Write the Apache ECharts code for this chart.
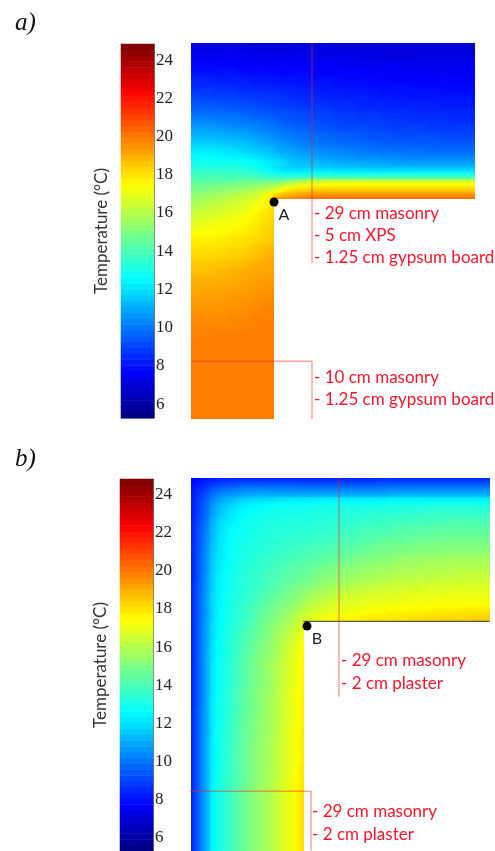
<!DOCTYPE html>
<html><head><meta charset="utf-8">
<style>html,body{margin:0;padding:0;background:#fff;overflow:hidden}#c{width:495px;height:851px}</style>
<script src="https://cdn.jsdelivr.net/npm/echarts@6/dist/echarts.min.js"></script>
</head><body><div id="c"></div>
<script>
const tempMin = 5.27, tempMax = 24.84;
const tickValues = [6,8,10,12,14,16,18,20,22,24];
const barLevels = [5.4,5.7,6.0,6.3,6.6,6.9,7.2,7.6,7.9,8.2,8.5,8.8,9.1,9.4,9.7,10.0,10.3,10.6,10.9,11.2,11.6,11.9,12.2,12.5,12.8,13.1,13.4,13.7,14.0,14.3,14.6,14.9,15.2,15.6,15.9,16.2,16.5,16.8,17.1,17.4,17.7,18.0,18.3,18.6,18.9,19.3,19.6,19.9,20.2,20.5,20.8,21.1,21.4,21.7,22.0,22.3,22.7,23.0,23.3,23.6,23.9,24.2,24.5,24.8];
const jet = ['#000080','#0000ff','#0080ff','#00ffff','#80ff80','#ffff00','#ff8000','#ff0000','#800000'];

// Panel a: temperature read per cell, top to bottom; short rows are the wall leg
const fieldA = [
[7.2,7.2,7.2,7.2,7.2,7.1,7.1,7.1,7.1,7.1,7.1,7.1,7.0,7.0,7.0,7.0,7.0,7.0,7.0,7.0,7.0,7.0,7.0,7.0],
[7.4,7.4,7.4,7.4,7.3,7.3,7.3,7.3,7.3,7.3,7.2,7.2,7.2,7.2,7.2,7.2,7.1,7.1,7.1,7.1,7.1,7.1,7.1,7.1],
[7.6,7.6,7.6,7.6,7.5,7.5,7.5,7.5,7.5,7.4,7.4,7.4,7.4,7.4,7.3,7.3,7.3,7.3,7.3,7.3,7.3,7.3,7.3,7.3],
[7.8,7.8,7.8,7.8,7.7,7.7,7.7,7.7,7.6,7.6,7.6,7.6,7.5,7.5,7.5,7.5,7.5,7.5,7.4,7.4,7.4,7.4,7.4,7.4],
[8.0,8.0,8.0,8.0,7.9,7.9,7.9,7.8,7.8,7.8,7.7,7.7,7.7,7.7,7.6,7.6,7.6,7.6,7.6,7.6,7.5,7.5,7.5,7.5],
[8.3,8.3,8.2,8.2,8.2,8.1,8.1,8.0,8.0,8.0,7.9,7.9,7.9,7.8,7.8,7.8,7.7,7.7,7.7,7.7,7.7,7.7,7.6,7.6],
[8.5,8.5,8.5,8.4,8.4,8.3,8.3,8.2,8.2,8.1,8.1,8.1,8.0,8.0,8.0,7.9,7.9,7.9,7.9,7.8,7.8,7.8,7.8,7.8],
[8.8,8.8,8.7,8.7,8.6,8.6,8.5,8.5,8.4,8.3,8.3,8.2,8.2,8.1,8.1,8.1,8.0,8.0,8.0,8.0,8.0,7.9,7.9,7.9],
[9.1,9.0,9.0,9.0,8.9,8.8,8.8,8.7,8.6,8.5,8.5,8.4,8.4,8.3,8.3,8.2,8.2,8.2,8.1,8.1,8.1,8.1,8.1,8.1],
[9.4,9.4,9.3,9.3,9.2,9.1,9.0,8.9,8.8,8.7,8.7,8.6,8.5,8.5,8.4,8.4,8.4,8.3,8.3,8.3,8.3,8.2,8.2,8.2],
[9.7,9.7,9.7,9.6,9.5,9.4,9.3,9.2,9.1,9.0,8.9,8.8,8.7,8.7,8.6,8.6,8.5,8.5,8.5,8.4,8.4,8.4,8.4,8.4],
[10.1,10.1,10.0,10.0,9.9,9.7,9.6,9.4,9.3,9.2,9.1,9.0,8.9,8.9,8.8,8.8,8.7,8.7,8.6,8.6,8.6,8.6,8.5,8.5],
[10.5,10.5,10.4,10.3,10.2,10.1,9.9,9.7,9.5,9.4,9.3,9.2,9.1,9.0,9.0,8.9,8.9,8.8,8.8,8.8,8.7,8.7,8.7,8.7],
[10.9,10.9,10.8,10.7,10.6,10.4,10.2,10.0,9.8,9.7,9.5,9.4,9.3,9.2,9.2,9.1,9.1,9.0,9.0,9.0,8.9,8.9,8.9,8.9],
[11.3,11.3,11.2,11.1,11.0,10.8,10.6,10.3,10.1,9.9,9.8,9.7,9.6,9.5,9.4,9.3,9.3,9.2,9.2,9.2,9.2,9.1,9.1,9.1],
[11.7,11.7,11.6,11.5,11.4,11.2,10.9,10.7,10.4,10.2,10.0,9.9,9.8,9.7,9.7,9.6,9.5,9.5,9.5,9.4,9.4,9.4,9.4,9.4],
[12.2,12.2,12.1,12.0,11.8,11.6,11.4,11.0,10.8,10.5,10.4,10.3,10.2,10.1,10.0,9.9,9.9,9.8,9.8,9.8,9.7,9.7,9.7,9.7],
[12.6,12.6,12.5,12.4,12.3,12.1,11.8,11.5,11.2,11.0,10.8,10.7,10.6,10.5,10.4,10.4,10.3,10.3,10.2,10.2,10.2,10.2,10.2,10.2],
[13.0,13.0,12.9,12.9,12.8,12.6,12.3,12.0,11.6,11.4,11.3,11.2,11.1,11.0,11.0,10.9,10.9,10.8,10.8,10.8,10.8,10.8,10.8,10.8],
[13.4,13.4,13.4,13.4,13.3,13.1,12.6,12.2,12.0,12.0,12.0,12.0,11.9,11.9,11.9,11.8,11.8,11.8,11.8,11.8,11.8,11.8,11.8,11.8],
[13.9,13.9,13.9,13.9,13.9,13.8,13.5,13.3,13.3,13.4,13.5,13.6,13.6,13.6,13.6,13.6,13.6,13.6,13.6,13.6,13.6,13.6,13.6,13.6],
[14.4,14.5,14.5,14.6,14.8,14.9,15.0,15.2,15.8,16.3,16.6,16.8,16.9,16.9,16.9,16.9,16.9,16.9,16.9,16.9,16.9,16.9,16.9,16.9],
[14.9,15.0,15.2,15.4,15.6,15.9,16.3,17.0,17.8,18.1,18.3,18.3,18.3,18.3,18.3,18.3,18.3,18.3,18.3,18.3,18.3,18.3,18.3,18.3],
[15.4,15.6,15.8,16.1,16.3,16.6,17.4,18.7,19.2,19.5,19.7,19.7,19.7,19.7,19.7,19.7,19.7,19.7,19.7,19.7,19.7,19.7,19.7,19.7],
[15.8,16.0,16.2,16.5,16.8,17.1,17.7],
[16.2,16.4,16.6,16.8,17.0,17.4,17.9],
[16.6,16.7,16.9,17.1,17.3,17.7,18.1],
[16.9,17.0,17.2,17.3,17.5,17.8,18.2],
[17.2,17.3,17.4,17.5,17.7,18.0,18.3],
[17.5,17.6,17.6,17.8,17.9,18.1,18.4],
[17.8,17.8,17.9,18.0,18.1,18.3,18.5],
[18.0,18.0,18.1,18.2,18.3,18.5,18.7],
[18.2,18.2,18.3,18.4,18.5,18.7,18.9],
[18.4,18.4,18.5,18.6,18.7,18.9,19.1],
[18.6,18.6,18.7,18.8,18.9,19.1,19.2],
[18.8,18.8,18.9,19.0,19.1,19.2,19.3],
[19.0,19.0,19.0,19.1,19.2,19.3,19.4],
[19.1,19.1,19.2,19.2,19.3,19.4,19.5],
[19.2,19.3,19.3,19.4,19.4,19.5,19.6],
[19.4,19.4,19.4,19.5,19.5,19.6,19.7],
[19.5,19.5,19.5,19.6,19.6,19.7,19.8],
[19.6,19.6,19.6,19.7,19.7,19.8,19.9],
[19.7,19.7,19.7,19.8,19.8,19.9,19.9],
[19.8,19.8,19.8,19.8,19.9,19.9,20.0],
[19.9,19.9,19.9,19.9,19.9,20.0,20.0],
[19.9,19.9,20.0,20.0,20.0,20.0,20.0],
[20.0,20.0,20.0,20.0,20.0,20.0,20.0],
[20.0,20.0,20.0,20.0,20.0,20.0,20.0],
[20.0,20.0,20.0,20.0,20.0,20.0,20.0],
[20.0,20.0,20.0,20.0,20.0,20.0,20.0],
[20.0,20.0,20.0,20.0,20.0,20.0,20.0],
[20.0,20.0,20.0,20.0,20.0,20.0,20.0],
[20.0,20.0,20.0,20.0,20.0,20.0,20.0],
[20.0,20.0,20.0,20.0,20.0,20.0,20.0],
[20.0,20.0,20.0,20.0,20.0,20.0,20.0],
[20.0,20.0,20.0,20.0,20.0,20.0,20.0],
[20.0,20.0,20.0,20.0,20.0,20.0,20.0],
[20.0,20.0,20.0,20.0,20.0,20.0,20.0]
];

// Panel b
const fieldB = [
[8.0,8.4,8.7,8.9,9.0,9.1,9.1,9.1,9.1,9.1,9.1,9.1,9.1,9.1,9.1,9.1,9.1,9.1,9.1,9.1,9.2,9.2,9.2,9.2,9.2,9.2,9.2,9.2,9.2,9.2,9.2,9.2],
[8.4,9.1,9.8,10.2,10.4,10.6,10.7,10.7,10.7,10.7,10.7,10.7,10.7,10.7,10.7,10.7,10.7,10.7,10.7,10.7,10.7,10.8,10.8,10.8,10.8,10.8,10.8,10.8,10.8,10.8,10.8,10.8],
[8.6,9.6,10.6,11.2,11.6,11.9,12.1,12.2,12.3,12.4,12.4,12.5,12.5,12.5,12.6,12.6,12.6,12.6,12.6,12.6,12.6,12.7,12.7,12.7,12.7,12.7,12.7,12.7,12.7,12.7,12.7,12.7],
[8.7,9.8,11.0,11.7,12.2,12.5,12.7,12.8,12.9,12.9,13.0,13.0,13.0,13.1,13.1,13.1,13.2,13.2,13.2,13.3,13.3,13.3,13.4,13.4,13.4,13.5,13.5,13.5,13.5,13.5,13.5,13.5],
[8.8,10.0,11.3,12.0,12.4,12.7,12.9,13.0,13.1,13.1,13.2,13.2,13.2,13.3,13.3,13.4,13.4,13.5,13.6,13.6,13.7,13.7,13.8,13.8,13.9,13.9,13.9,14.0,14.0,14.0,14.0,14.0],
[8.9,10.2,11.5,12.2,12.6,12.8,13.0,13.1,13.2,13.3,13.3,13.4,13.4,13.5,13.5,13.6,13.7,13.8,13.9,14.0,14.0,14.1,14.2,14.2,14.3,14.3,14.4,14.4,14.4,14.4,14.4,14.4],
[8.9,10.3,11.6,12.3,12.7,12.9,13.1,13.2,13.3,13.4,13.5,13.6,13.6,13.7,13.8,13.9,14.0,14.1,14.2,14.3,14.4,14.5,14.5,14.6,14.7,14.7,14.8,14.8,14.8,14.8,14.8,14.8],
[9.0,10.4,11.7,12.4,12.8,13.0,13.2,13.3,13.4,13.6,13.7,13.8,13.9,14.0,14.1,14.2,14.3,14.4,14.6,14.7,14.8,14.9,15.0,15.0,15.1,15.1,15.2,15.2,15.2,15.2,15.2,15.2],
[9.0,10.5,11.8,12.4,12.8,13.1,13.3,13.5,13.6,13.8,13.9,14.1,14.2,14.3,14.5,14.6,14.7,14.9,15.0,15.1,15.2,15.3,15.4,15.5,15.5,15.6,15.6,15.7,15.7,15.7,15.7,15.7],
[9.0,10.5,11.9,12.5,12.9,13.2,13.4,13.6,13.8,14.0,14.2,14.4,14.5,14.7,14.9,15.0,15.2,15.3,15.4,15.5,15.6,15.7,15.8,15.8,15.9,16.0,16.0,16.0,16.1,16.1,16.1,16.1],
[9.0,10.6,12.0,12.6,13.0,13.3,13.5,13.7,14.0,14.2,14.4,14.6,14.8,15.0,15.2,15.4,15.5,15.7,15.8,15.9,16.0,16.1,16.2,16.2,16.3,16.3,16.4,16.4,16.4,16.5,16.5,16.5],
[9.1,10.6,12.0,12.6,13.0,13.3,13.6,13.8,14.1,14.4,14.7,15.0,15.2,15.5,15.7,15.9,16.0,16.2,16.3,16.4,16.5,16.6,16.6,16.7,16.7,16.8,16.8,16.8,16.9,16.9,16.9,16.9],
[9.1,10.7,12.1,12.7,13.1,13.4,13.7,14.0,14.4,14.7,15.0,15.3,15.7,16.0,16.2,16.4,16.6,16.7,16.8,16.9,16.9,17.0,17.0,17.1,17.1,17.1,17.1,17.2,17.2,17.2,17.2,17.2],
[9.1,10.7,12.1,12.7,13.2,13.5,13.9,14.3,14.7,15.0,15.3,15.8,16.2,16.5,16.7,16.9,17.0,17.1,17.2,17.3,17.3,17.4,17.4,17.5,17.5,17.5,17.6,17.6,17.6,17.7,17.7,17.7],
[9.1,10.7,12.1,12.8,13.2,13.6,14.0,14.5,14.9,15.3,15.7,16.3,16.7,17.0,17.2,17.4,17.5,17.6,17.7,17.8,17.8,17.9,17.9,18.0,18.0,18.1,18.1,18.2,18.2,18.2,18.3,18.3],
[9.1,10.8,12.2,12.8,13.3,13.7,14.2,14.7,15.2,15.6,16.0,16.7],
[9.1,10.8,12.2,12.9,13.4,13.9,14.3,14.8,15.3,15.8,16.3,17.0],
[9.1,10.8,12.3,12.9,13.5,14.0,14.5,15.0,15.4,16.0,16.5,17.2],
[9.1,10.9,12.3,12.9,13.5,14.1,14.6,15.1,15.5,16.1,16.7,17.3],
[9.1,10.9,12.4,13.0,13.6,14.2,14.7,15.2,15.7,16.2,16.8,17.4],
[9.1,10.9,12.4,13.0,13.6,14.2,14.7,15.2,15.7,16.2,16.8,17.4],
[9.1,10.9,12.4,13.0,13.6,14.2,14.7,15.2,15.7,16.3,16.8,17.4],
[9.1,10.9,12.4,13.1,13.7,14.3,14.8,15.3,15.7,16.3,16.9,17.5],
[9.1,10.9,12.5,13.1,13.7,14.3,14.8,15.3,15.8,16.3,16.9,17.5],
[9.2,10.9,12.5,13.1,13.7,14.3,14.8,15.3,15.8,16.3,16.9,17.5],
[9.2,10.9,12.5,13.1,13.8,14.4,14.9,15.4,15.8,16.4,16.9,17.5],
[9.2,10.9,12.5,13.2,13.8,14.4,14.9,15.4,15.8,16.4,17.0,17.6],
[9.2,11.0,12.6,13.2,13.8,14.4,14.9,15.4,15.9,16.4,17.0,17.6],
[9.2,11.0,12.6,13.2,13.9,14.5,15.0,15.5,15.9,16.5,17.0,17.6],
[9.2,11.0,12.6,13.2,13.9,14.5,15.0,15.5,15.9,16.5,17.0,17.6],
[9.2,11.0,12.6,13.3,13.9,14.5,15.0,15.5,15.9,16.5,17.0,17.7],
[9.2,11.0,12.6,13.3,13.9,14.5,15.0,15.5,16.0,16.5,17.1,17.7],
[9.2,11.0,12.7,13.3,14.0,14.6,15.1,15.6,16.0,16.6,17.1,17.7],
[9.2,11.0,12.7,13.3,14.0,14.6,15.1,15.6,16.0,16.6,17.1,17.8],
[9.2,11.0,12.7,13.3,14.0,14.6,15.1,15.6,16.0,16.6,17.1,17.8],
[9.2,11.0,12.7,13.3,14.0,14.6,15.1,15.6,16.0,16.6,17.1,17.8],
[9.2,11.0,12.7,13.3,14.0,14.6,15.1,15.6,16.0,16.6,17.1,17.8],
[9.2,11.0,12.7,13.3,14.0,14.6,15.1,15.6,16.0,16.6,17.1,17.8],
[9.2,11.0,12.7,13.3,14.0,14.6,15.1,15.6,16.0,16.6,17.1,17.8]
];

// Section lines and probe points, in field cell units (column, row)
const sectionA1 = [[10.25,0],[10.25,33.9]];
const sectionA2 = [[0,49.1],[10.25,49.1],[10.25,58]];
const sectionB1 = [[15.84,0],[15.84,22.9]];
const sectionB2 = [[-0.3,32.8],[12.83,32.8],[12.83,39]];
const wallB = [[12,15],[32,15]];
const pointA = [[7.03,24.5]];
const pointB = [[12.4,15.5]];

const notes = [
 {t:'- 29 cm masonry',x:314,y:213.5},{t:'- 5 cm XPS',x:314,y:236},{t:'- 1.25 cm gypsum board',x:314,y:258},
 {t:'- 10 cm masonry',x:314,y:377.5},{t:'- 1.25 cm gypsum board',x:314,y:399.5},
 {t:'- 29 cm masonry',x:341,y:661},{t:'- 2 cm plaster',x:341,y:684},
 {t:'- 29 cm masonry',x:312,y:812},{t:'- 2 cm plaster',x:312,y:835}
];

function cells(field){const out=[];field.forEach((row,r)=>row.forEach((v,c)=>out.push([c,r,v])));return out;}
function idx(n){return Array.from({length:n},(_,i)=>i);}
const colsA=fieldA[0].length, rowsA=fieldA.length, colsB=fieldB[0].length, rowsB=fieldB.length;

function tempColor(v){
  const t=Math.max(0,Math.min(1,(v-tempMin)/(tempMax-tempMin)));
  return echarts.color.lerp(t,jet);
}
// Each cell is a rectangle on the axes, shaded toward its neighbours' read values
function slope(field,r,c,dr,dc){
  const at=(i,j)=>field[i]!==undefined?field[i][j]:undefined;
  const a=at(r-dr,c-dc),b=at(r+dr,c+dc),v=field[r][c];
  if(a!==undefined&&b!==undefined)return (b-a)/2;
  if(b!==undefined)return b-v;
  if(a!==undefined)return v-a;
  return 0;
}
function fieldRenderer(field){
  return function(params,api){
    const c=api.value(0),r=api.value(1),v=api.value(2);
    const p0=api.coord([c,r]),p1=api.coord([c+1,r+1]);
    const x0=Math.floor(p0[0]),y0=Math.floor(p0[1]),x1=Math.ceil(p1[0]),y1=Math.ceil(p1[1]);
    const w=x1-x0,h=y1-y0;
    const gx=slope(field,r,c,0,1)/w,gy=slope(field,r,c,1,0)/h;
    const g=Math.hypot(gx,gy);
    let fill;
    if(g<1e-6){fill=tempColor(v);}
    else{
      const L=(Math.abs(gx)*w/2+Math.abs(gy)*h/2)/g;
      const ax=L*gx/g/w,ay=L*gy/g/h,dv=L*g;
      fill=new echarts.graphic.LinearGradient(.5-ax,.5-ay,.5+ax,.5+ay,
        [0,.25,.5,.75,1].map(o=>({offset:o,color:tempColor(v-dv+2*dv*o)})));
    }
    return {type:'rect',shape:{x:x0,y:y0,width:w,height:h},style:{fill:fill}};
  };
}

const SEC='rgba(255,30,30,0.42)';
const hidden={show:false};
function catY(n,g){return {type:'category',gridIndex:g,data:idx(n),show:false};}
function valX(max,g){return {type:'value',gridIndex:g,min:0,max:max,show:false};}
function valY(max,g){return {type:'value',gridIndex:g,min:0,max:max,show:false,inverse:true};}
function tempAxis(g,pos){
  const right=pos==='right';
  return {type:'value',gridIndex:g,position:pos,min:tempMin,max:tempMax,
    name:right?'':'Temperature (°C)',nameLocation:'middle',nameGap:11,nameRotate:90,
    nameTextStyle:{fontFamily:'Lato',fontSize:17,color:'#333'},
    splitLine:hidden,
    axisLine:{show:true,lineStyle:{color:'#777',width:1}},
    axisTick:{show:true,inside:true,length:3,customValues:tickValues,lineStyle:{color:'#222'}},
    axisLabel:{show:right,customValues:tickValues,margin:2,formatter:v=>String(v),
      fontFamily:'Liberation Serif',fontSize:17,color:'#222'}};
}
function frameX(g){return {type:'category',gridIndex:g,data:['c'],boundaryGap:true,
  axisLine:{show:true,lineStyle:{color:'#999'}},axisTick:hidden,axisLabel:hidden};}

const grids=[
 {left:191,top:43.3,width:283.3,height:375.7},
 {left:191.7,top:478,width:297.6,height:372.6},
 {left:121,top:44,width:33,height:374},
 {left:120,top:479,width:33,height:374},
 {left:121,top:44,width:33,height:374},
 {left:120,top:479,width:33,height:374}
];
const xAxes=[valX(colsA,0),valX(colsB,1),
  {type:'category',gridIndex:2,data:['c'],show:false},{type:'category',gridIndex:3,data:['c'],show:false},
  frameX(4),frameX(5)];
const yAxes=[valY(rowsA,0),valY(rowsB,1),
  catY(barLevels.length,2),catY(barLevels.length,3),
  tempAxis(4,'left'),tempAxis(4,'right'),tempAxis(5,'left'),tempAxis(5,'right')];

function heat(name,x,y,data){return {type:'heatmap',name:name,xAxisIndex:x,yAxisIndex:y,data:data,
  itemStyle:{borderWidth:0},progressive:0,emphasis:{disabled:true}};}
function fieldSeries(name,x,y,field){return {type:'custom',name:name,xAxisIndex:x,yAxisIndex:y,
  data:cells(field),encode:{x:0,y:1},renderItem:fieldRenderer(field),silent:true,progressive:0,clip:false};}
function line(name,x,y,data,color,w){return {type:'line',name:name,xAxisIndex:x,yAxisIndex:y,data:data,
  showSymbol:false,symbol:'none',clip:false,z:5,lineStyle:{color:color,width:w||1.5},silent:true};}
function dot(name,x,y,data,text){return {type:'scatter',name:name,xAxisIndex:x,yAxisIndex:y,data:data,
  symbolSize:9,z:6,itemStyle:{color:'#000',opacity:1},silent:true,clip:false,
  label:{show:true,formatter:text,position:'inside',offset:[10,13],fontFamily:'Lato',fontSize:16,color:'#222'}};}

const series=[
 fieldSeries('a',0,0,fieldA),
 fieldSeries('b',1,1,fieldB),
 heat('barA',2,2,barLevels.map((v,i)=>[0,i,v])),
 heat('barB',3,3,barLevels.map((v,i)=>[0,i,v])),
 line('sectionA1',0,0,sectionA1,SEC),
 line('sectionA2',0,0,sectionA2,SEC),
 line('sectionB1',1,1,sectionB1,SEC),
 line('sectionB2',1,1,sectionB2,SEC),
 line('wallB',1,1,wallB,'#333a66',1),
 dot('A',0,0,pointA,'A'),
 dot('B',1,1,pointB,'B')
];

const chart=echarts.init(document.getElementById('c'),null,{renderer:'canvas'});
chart.setOption({
 animation:false,backgroundColor:'#fff',
 title:[
  {text:'a)',left:10,top:6,textStyle:{fontFamily:'Liberation Serif',fontStyle:'italic',fontWeight:'normal',fontSize:25,color:'#111'}},
  {text:'b)',left:10,top:442,textStyle:{fontFamily:'Liberation Serif',fontStyle:'italic',fontWeight:'normal',fontSize:25,color:'#111'}}
 ],
 grid:grids,xAxis:xAxes,yAxis:yAxes,
 visualMap:{show:false,type:'continuous',seriesIndex:[2,3],dimension:2,min:tempMin,max:tempMax,inRange:{color:jet}},
 series:series,
 graphic:notes.map(n=>({type:'text',x:n.x,y:n.y,silent:true,
   style:{text:n.t,fill:'#f5162c',font:'17px Lato',textVerticalAlign:'middle',textAlign:'left'}}))
});
</script></body></html>
